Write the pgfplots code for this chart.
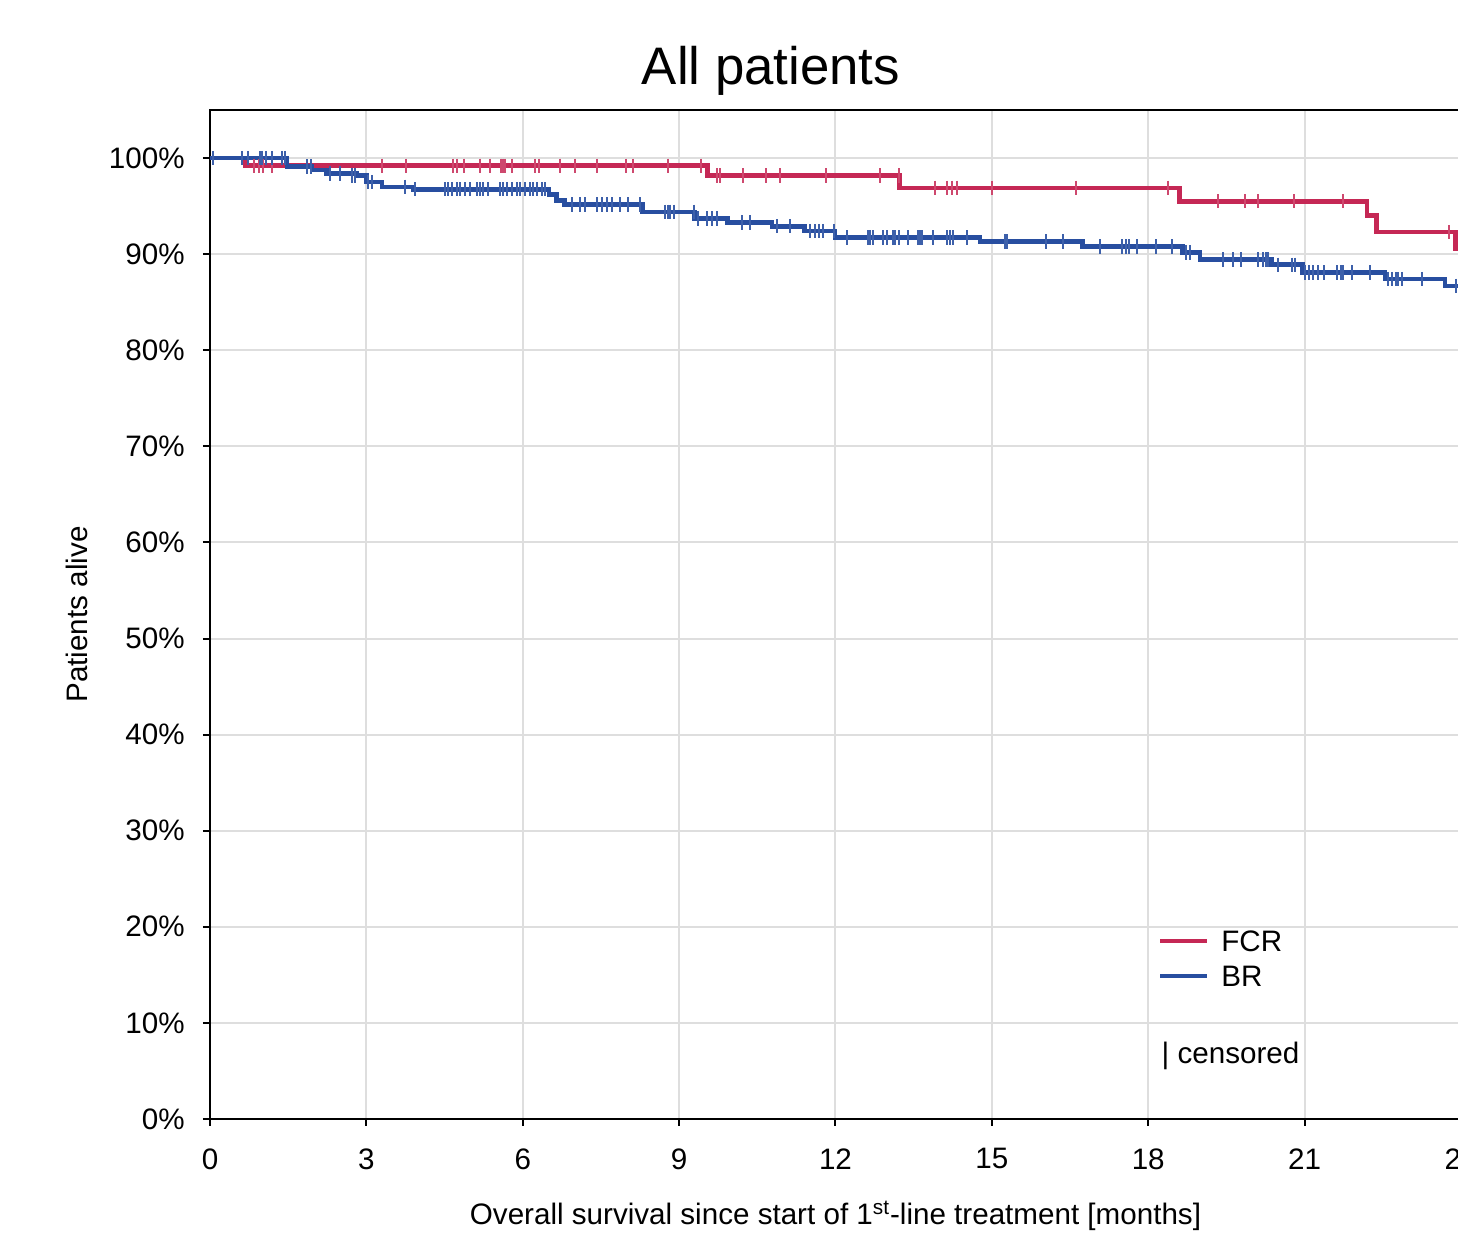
\documentclass[border=0pt]{standalone}
\usepackage{pgfplots}
\pgfplotsset{compat=1.18}
\usepackage{fontspec}
\setmainfont{Liberation Sans}
\definecolor{fcr}{RGB}{197,40,85}
\definecolor{br}{RGB}{40,78,160}
\definecolor{gridc}{RGB}{222,222,222}
\newcommand{\fs}{\fontsize{14.8}{17}\selectfont}
\begin{document}
\begin{tikzpicture}
\begin{axis}[
  scale only axis, width=625.5pt, height=504.5pt,
  xmin=0, xmax=24, ymin=0, ymax=105,
  xtick={0,3,...,24}, xticklabels={0,3,6,9,12,15,18,21,24},
  ytick={0,10,...,100},
  yticklabels={0\%,10\%,20\%,30\%,40\%,50\%,60\%,70\%,80\%,90\%,100\%},
  xtick pos=left, ytick pos=left,
  tick align=outside, major tick length=3.5pt,
  tick style={black, line width=1pt},
  axis line style={black, line width=1.1pt},
  grid=major, major grid style={draw=gridc, line width=1pt},
  xticklabel style={font=\fs, inner sep=0pt, anchor=north, yshift=-11pt},
  yticklabel style={font=\fs, inner sep=0pt, anchor=east, xshift=-9pt},
  xlabel={Overall survival since start of 1\textsuperscript{st}-line treatment [months]},
  ylabel={Patients alive},
  x label style={font=\fs, at={(axis description cs:0.5,-0.10505)}, anchor=base},
  y label style={font=\fs, at={(axis description cs:-0.0983,0.5)}, anchor=base, rotate=0},
  legend style={at={(axis cs:18.18,19.7)}, anchor=north west, draw=none, fill=none,
    inner sep=0pt, font=\fs, row sep=6.9pt, column sep=0pt,
    nodes={inner sep=0pt, text height=10.6pt, text depth=0pt}},
  legend cell align=left,
  legend image code/.code={\draw[#1, line width=2pt] (0pt,0pt) -- (23.5pt,0pt); \path (29.5pt,0pt);},
]
% FCR step curve
\addplot[const plot, fcr, line width=2.3pt] coordinates {
(0,100) (0.67,99.2) (9.55,98.2) (13.23,96.9) (18.6,95.5) (22.2,94.0) (22.38,92.3) (23.9,90.6) (24,90.6)};
\addlegendentry{FCR}
% BR step curve
\addplot[const plot, br, line width=2.3pt] coordinates {
(0,100) (1.48,99.1) (1.96,98.75) (2.24,98.4) (2.82,98.2) (3.0,97.5) (3.3,97.0) (3.9,96.75)
(6.5,96.2) (6.65,95.6) (6.8,95.15) (8.3,94.4) (9.3,93.7) (9.93,93.3) (10.78,92.9) (11.41,92.4)
(11.99,91.75) (14.77,91.3) (16.74,90.8) (18.66,90.15) (18.99,89.45) (20.37,88.9) (20.96,88.1)
(22.54,87.4) (23.69,86.7) (24,86.7)};
\addlegendentry{BR}
% FCR censored
\addplot[forget plot, only marks, mark=|, mark size=3.6pt, fcr!85, mark options={line width=1pt}] coordinates {
(0.84,99.2) (0.94,99.2) (1.02,99.2) (1.19,99.2) (3.30,99.2) (3.76,99.2) (4.66,99.2) (4.74,99.2)
(4.87,99.2) (5.18,99.2) (5.37,99.2) (5.58,99.2) (5.62,99.2) (5.66,99.2) (5.79,99.2) (6.23,99.2)
(6.31,99.2) (6.71,99.2) (7.0,99.2) (7.42,99.2) (7.98,99.2) (8.11,99.2) (8.78,99.2) (9.42,99.2)
(9.72,98.2) (9.78,98.2) (10.22,98.2) (10.66,98.2) (10.93,98.2) (11.81,98.2) (12.85,98.2) (13.21,98.2)
(13.9,96.9) (14.13,96.9) (14.23,96.9) (14.33,96.9) (15.0,96.9) (16.62,96.9) (18.37,96.9)
(19.33,95.5) (19.85,95.5) (20.1,95.5) (20.79,95.5) (21.73,95.5)
(23.77,92.3)};
% BR censored
\addplot[forget plot, only marks, mark=|, mark size=3.6pt, br!90, mark options={line width=1pt}] coordinates {
(0.05,100) (0.61,100) (0.73,100) (0.96,100) (1.0,100) (1.07,100) (1.19,100) (1.38,100) (1.44,100)
(1.86,99.1) (1.94,99.1) (2.3,98.4) (2.49,98.4) (2.72,98.2) (2.78,98.2) (3.03,97.5) (3.1,97.5) (3.74,97.0)
(3.93,96.75) (4.51,96.75) (4.57,96.75) (4.64,96.75) (4.74,96.75) (4.79,96.75) (4.89,96.75) (4.99,96.75)
(5.12,96.75) (5.18,96.75) (5.23,96.75) (5.33,96.75) (5.56,96.75) (5.62,96.75) (5.7,96.75) (5.79,96.75)
(5.89,96.75) (5.95,96.75) (6.04,96.75) (6.14,96.75) (6.2,96.75) (6.27,96.75) (6.37,96.75) (6.43,96.75)
(6.94,95.15) (7.1,95.15) (7.19,95.15) (7.42,95.15) (7.52,95.15) (7.61,95.15) (7.71,95.15) (7.86,95.15)
(8.02,95.15) (8.25,95.15)
(8.73,94.4) (8.78,94.4) (8.82,94.4) (8.9,94.4) (9.28,94.4)
(9.36,93.7) (9.53,93.7) (9.63,93.7) (9.72,93.7)
(10.2,93.3) (10.36,93.3) (10.87,92.9) (11.12,92.9)
(11.51,92.4) (11.6,92.4) (11.68,92.4) (11.76,92.4) (11.97,92.4)
(12.22,91.75) (12.62,91.75) (12.66,91.75) (12.72,91.75) (12.91,91.75) (12.98,91.75) (13.1,91.75)
(13.15,91.75) (13.21,91.75) (13.39,91.75) (13.58,91.75) (13.62,91.75) (13.66,91.75) (13.87,91.75)
(14.13,91.75) (14.19,91.75) (14.25,91.75) (14.52,91.75)
(15.25,91.3) (15.29,91.3) (16.03,91.3) (16.36,91.3)
(17.07,90.8) (17.49,90.8) (17.57,90.8) (17.63,90.8) (17.78,90.8) (18.14,90.8) (18.45,90.8)
(18.72,90.15) (18.81,90.15)
(19.43,89.45) (19.62,89.45) (19.77,89.45) (20.1,89.45) (20.2,89.45) (20.25,89.45) (20.29,89.45)
(20.48,88.9) (20.75,88.9) (20.81,88.9)
(21.0,88.1) (21.08,88.1) (21.16,88.1) (21.25,88.1) (21.38,88.1) (21.63,88.1) (21.69,88.1) (21.73,88.1)
(21.9,88.1) (22.25,88.1)
(22.59,87.4) (22.67,87.4) (22.75,87.4) (22.8,87.4) (22.86,87.4) (23.26,87.4)
(23.9,86.7)};
\node[anchor=west, font=\fs, inner sep=0pt] at (axis cs:18.25,6.6) {| censored};
\end{axis}
\node[anchor=base, font=\fontsize{26.4}{30}\selectfont, inner sep=0pt] at ([xshift=280.5pt,yshift=12.5pt]current axis.north west) {All patients};
\pgfresetboundingbox
\path[use as bounding box] ([xshift=-105pt,yshift=-61.5pt]current axis.south west) rectangle ([xshift=-1.5pt,yshift=55pt]current axis.north east);
\end{tikzpicture}
\end{document}
